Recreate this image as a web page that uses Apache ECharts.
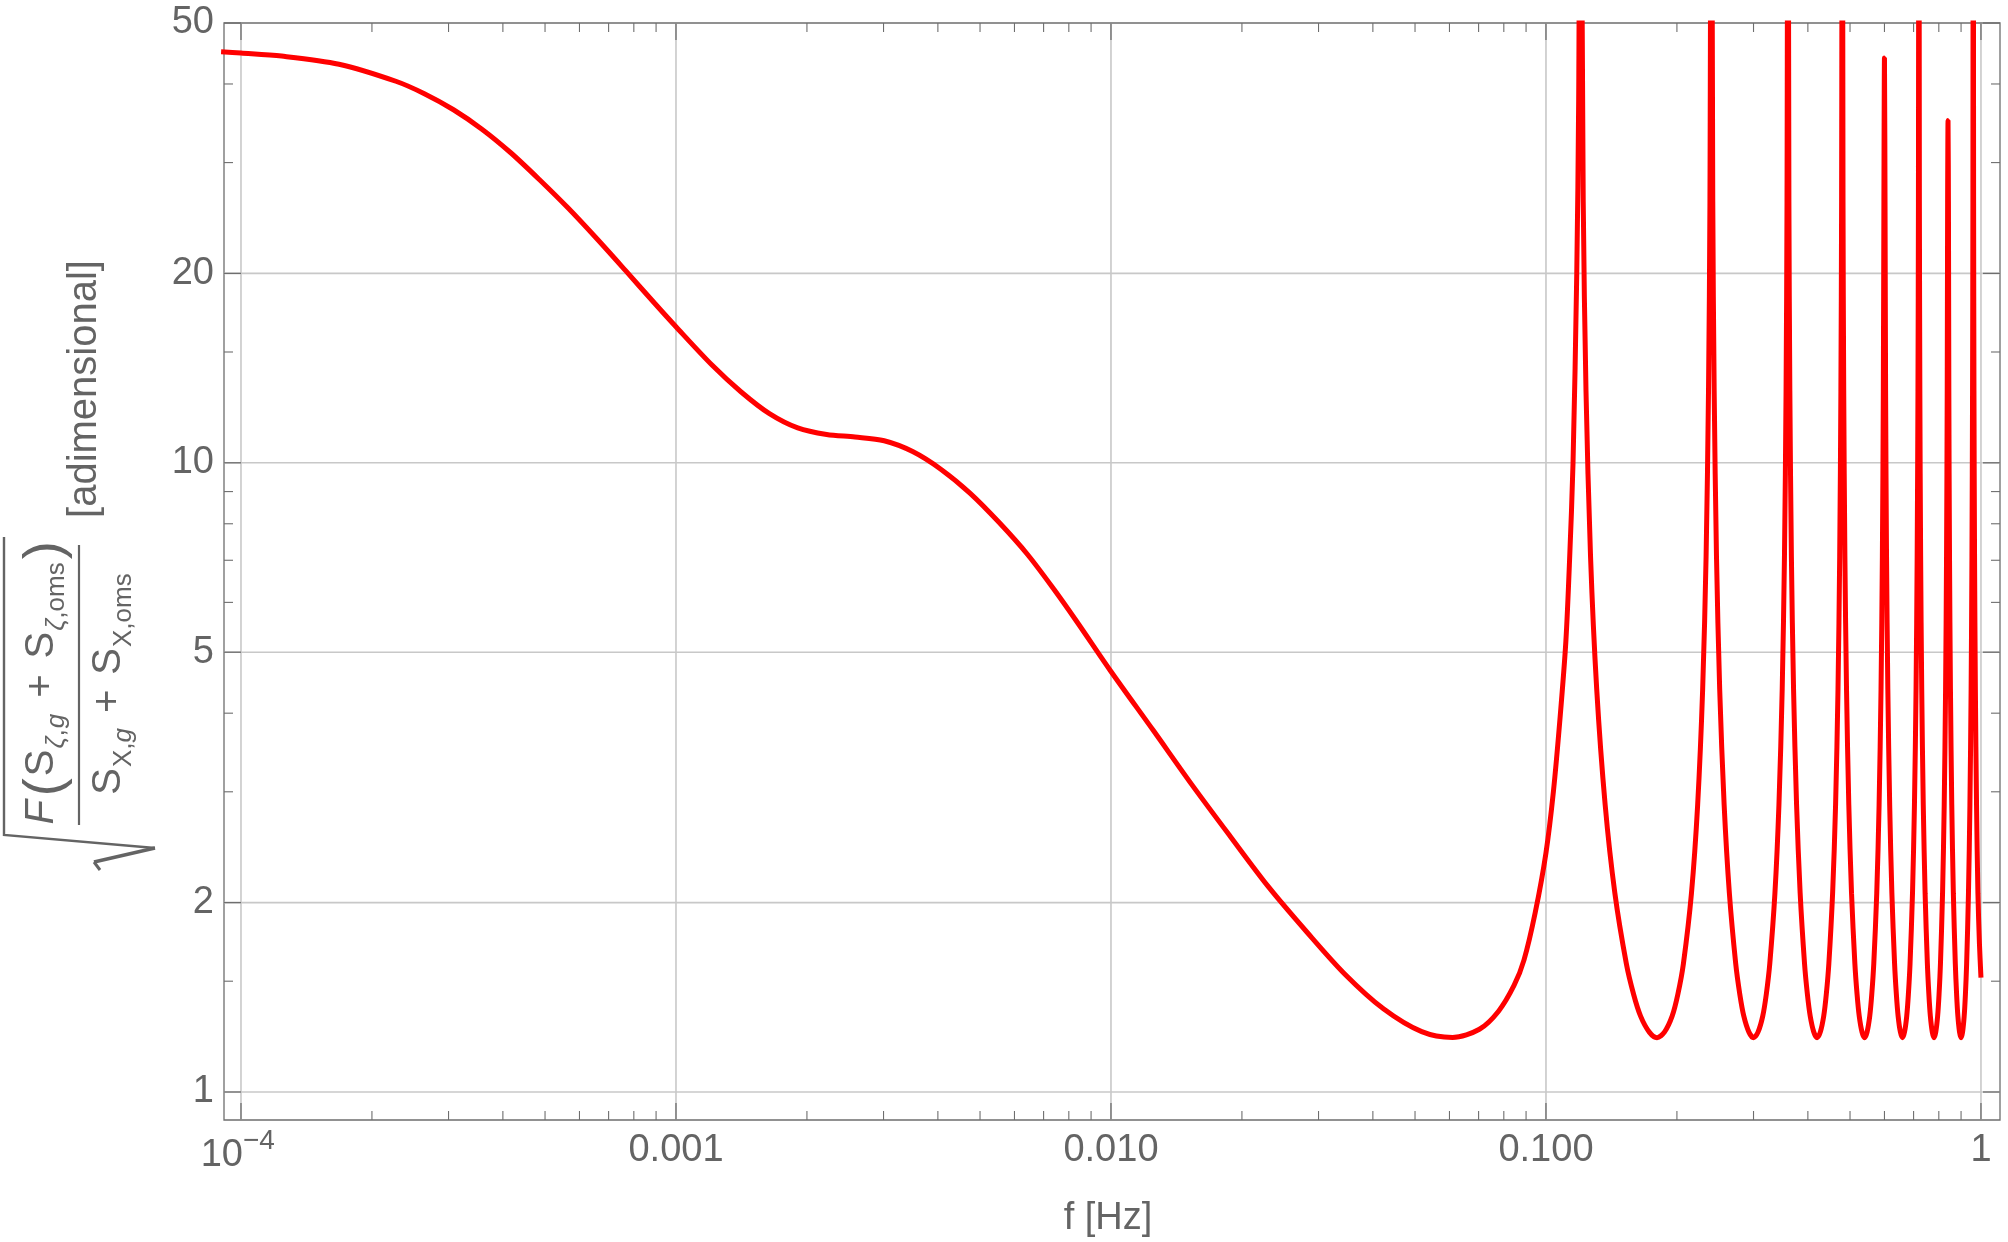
<!DOCTYPE html>
<html>
<head>
<meta charset="utf-8">
<script src="https://cdn.jsdelivr.net/npm/echarts@6/dist/echarts.min.js"></script>
<style>
html,body{margin:0;padding:0;background:#ffffff;}
#chart{width:2008px;height:1242px;}
</style>
</head>
<body>
<div id="chart"></div>
<script>
// ---------------- data ----------------
const freq = [
  9.0e-5, 1.0e-4, 1.24e-4, 1.68e-4, 2.27e-4, 2.64e-4, 3.08e-4, 3.58e-4, 4.17e-4, 4.85e-4, 5.65e-4,
  6.58e-4, 7.66e-4, 8.91e-4, 1.0e-3, 1.21e-3, 1.41e-3, 1.64e-3, 1.905e-3, 2.22e-3, 2.58e-3,
  3.01e-3, 3.5e-3, 4.07e-3, 4.74e-3, 5.52e-3, 6.43e-3, 7.4e-3, 8.35e-3, 0.01, 0.01253,
  0.01534, 0.01879, 0.023, 0.0282, 0.0345, 0.0423, 0.0518, 0.061, 0.0703, 0.0778,
  0.0845, 0.089, 0.0945, 0.1, 0.104, 0.1078, 0.1111, 0.1133, 0.1154, 0.1177, 0.1189, 0.12,
  0.1218, 0.1236, 0.1266, 0.1308, 0.1368, 0.144, 0.153, 0.159, 0.165, 0.1728, 0.18,
  0.1872, 0.195, 0.201, 0.207, 0.216, 0.2232, 0.2292, 0.2334, 0.2364, 0.2382, 0.24,
  0.2418, 0.2436, 0.2466, 0.2508, 0.2568, 0.264, 0.273, 0.279, 0.285, 0.2928, 0.30,
  0.3072, 0.315, 0.321, 0.327, 0.336, 0.3432, 0.3492, 0.3534, 0.3564, 0.3582, 0.36,
  0.3618, 0.3636, 0.3666, 0.3708, 0.3768, 0.384, 0.393, 0.399, 0.405, 0.4128, 0.42,
  0.4272, 0.435, 0.441, 0.447, 0.456, 0.4632, 0.4692, 0.4734, 0.4764, 0.4782, 0.48,
  0.4818, 0.4836, 0.4866, 0.4908, 0.4968, 0.504, 0.513, 0.519, 0.525, 0.5328, 0.54,
  0.5472, 0.555, 0.561, 0.567, 0.576, 0.5832, 0.5892, 0.5934, 0.5964, 0.5982, 0.60,
  0.6018, 0.6036, 0.6066, 0.6108, 0.6168, 0.624, 0.633, 0.639, 0.645, 0.6528, 0.66,
  0.6672, 0.675, 0.681, 0.687, 0.696, 0.7032, 0.7092, 0.7134, 0.7164, 0.7182, 0.72,
  0.7218, 0.7236, 0.7266, 0.7308, 0.7368, 0.744, 0.753, 0.759, 0.765, 0.7728, 0.78,
  0.7872, 0.795, 0.801, 0.807, 0.816, 0.8232, 0.8292, 0.8334, 0.8364, 0.8382, 0.84,
  0.8418, 0.8436, 0.8466, 0.8508, 0.8568, 0.864, 0.873, 0.879, 0.885, 0.8928, 0.90,
  0.9072, 0.915, 0.921, 0.927, 0.936, 0.9432, 0.9492, 0.9534, 0.9564, 0.9582, 0.96,
  0.9618, 0.9636, 0.9666, 0.9708, 0.9768, 0.984, 0.992, 1.0
];
const ratio = [
  45.0, 44.8, 44.3, 43.0, 40.4, 38.6, 36.4, 33.9, 31.1, 28.2, 25.4,
  22.7, 20.2, 17.96, 16.45, 14.3, 12.97, 11.97, 11.36, 11.09, 10.99,
  10.84, 10.42, 9.76, 8.95, 8.05, 7.15, 6.29, 5.59, 4.66, 3.75,
  3.08, 2.55, 2.12, 1.796, 1.539, 1.356, 1.247, 1.221, 1.258, 1.344,
  1.478, 1.62, 1.93, 2.40, 3.0, 3.95, 5.2, 7.0, 10, 20, 37.8, 150,
  26, 13, 7.1, 4.37, 2.86, 2.07, 1.60, 1.43, 1.32, 1.245, 1.22,
  1.245, 1.32, 1.43, 1.60, 2.07, 2.86, 4.37, 7.1, 13, 26, 150,
  26, 13, 7.1, 4.37, 2.86, 2.07, 1.60, 1.43, 1.32, 1.245, 1.22,
  1.245, 1.32, 1.43, 1.60, 2.07, 2.86, 4.37, 7.1, 13, 26, 150,
  26, 13, 7.1, 4.37, 2.86, 2.07, 1.60, 1.43, 1.32, 1.245, 1.22,
  1.245, 1.32, 1.43, 1.60, 2.07, 2.86, 4.37, 7.1, 13, 26, 150,
  26, 13, 7.1, 4.37, 2.86, 2.07, 1.60, 1.43, 1.32, 1.245, 1.22,
  1.245, 1.32, 1.43, 1.60, 2.07, 2.86, 4.37, 7.1, 13, 26, 44,
  26, 13, 7.1, 4.37, 2.86, 2.07, 1.60, 1.43, 1.32, 1.245, 1.22,
  1.245, 1.32, 1.43, 1.60, 2.07, 2.86, 4.37, 7.1, 13, 26, 150,
  26, 13, 7.1, 4.37, 2.86, 2.07, 1.60, 1.43, 1.32, 1.245, 1.22,
  1.245, 1.32, 1.43, 1.60, 2.07, 2.86, 4.37, 7.1, 13, 26, 35,
  26, 13, 7.1, 4.37, 2.86, 2.07, 1.60, 1.43, 1.32, 1.245, 1.22,
  1.245, 1.32, 1.43, 1.60, 2.07, 2.86, 4.37, 7.1, 13, 26, 150,
  26, 13, 7.1, 4.37, 2.86, 2.07, 1.72, 1.52
];
const xMajorTicks = [1e-4, 1e-3, 1e-2, 1e-1, 1];
const xTickLabels = ['10^−4', '0.001', '0.010', '0.100', '1'];
const xMinorTicks = [
  2e-4, 3e-4, 4e-4, 5e-4, 6e-4, 7e-4, 8e-4, 9e-4,
  2e-3, 3e-3, 4e-3, 5e-3, 6e-3, 7e-3, 8e-3, 9e-3,
  0.02, 0.03, 0.04, 0.05, 0.06, 0.07, 0.08, 0.09,
  0.2, 0.3, 0.4, 0.5, 0.6, 0.7, 0.8, 0.9
];
const yMajorTicks = [1, 2, 5, 10, 20, 50];
const yTickLabels = ['1', '2', '5', '10', '20', '50'];
const yMinorTicks = [1.5, 3, 4, 6, 7, 8, 9, 15, 30, 40];
const xAxisTitle = 'f [Hz]';
const yAxisUnit = '[adimensional]';

// ---------------- axis ranges & styles ----------------
const X_MIN = 9.14e-5, X_MAX = 1.106, Y_MIN = 0.9026, Y_MAX = 50;
const FAM = '"Liberation Sans", Arial, Helvetica, sans-serif';
const TXT = '#646464', AX = '#6e6e6e', GRID = '#c8c8c8', RED = '#ff0000';
const MAJ = 17, MINL = 9;
const LABEL_FONT = '38px ' + FAM;

const mctx = document.createElement('canvas').getContext('2d');
function tw(text, font) { mctx.font = font; return mctx.measureText(text).width; }

function txt(text, x, y, font, align, valign) {
  return {
    type: 'text', x: x, y: y,
    style: {
      text: text, font: font, fill: TXT,
      textAlign: align, textVerticalAlign: valign,
      align: align, verticalAlign: valign
    }
  };
}

function row(pieces, centerLx) {
  let total = 0;
  pieces.forEach(p => { p.w = tw(p.t, p.font); total += p.w + (p.gap || 0); });
  total -= (pieces[pieces.length - 1].gap || 0);
  let x = centerLx - total / 2;
  const out = [];
  pieces.forEach(p => { out.push(txt(p.t, x, p.ly, p.font, 'left', 'middle')); x += p.w + (p.gap || 0); });
  return out;
}

const R40 = '40px ' + FAM, I40 = 'italic 40px ' + FAM;
const R26 = '26px ' + FAM, I26 = 'italic 26px ' + FAM;
const R54 = '54px ' + FAM;

const numerator = row([
  { t: 'F', font: I40, ly: 42, gap: 4 },
  { t: '(', font: R54, ly: 46, gap: 2 },
  { t: 'S', font: R40, ly: 42, gap: 1 },
  { t: 'ζ', font: I26, ly: 57, gap: 0 },
  { t: ',', font: R26, ly: 57, gap: 1 },
  { t: 'g', font: I26, ly: 57, gap: 16 },
  { t: '+', font: R40, ly: 42, gap: 16 },
  { t: 'S', font: R40, ly: 42, gap: 1 },
  { t: 'ζ', font: I26, ly: 57, gap: 0 },
  { t: ',oms', font: R26, ly: 57, gap: 3 },
  { t: ')', font: R54, ly: 46 }
], 154);

const denominator = row([
  { t: 'S', font: R40, ly: 109, gap: 1 },
  { t: 'X,', font: R26, ly: 124, gap: 0 },
  { t: 'g', font: I26, ly: 124, gap: 15 },
  { t: '+', font: R40, ly: 109, gap: 15 },
  { t: 'S', font: R40, ly: 109, gap: 1 },
  { t: 'X,oms', font: R26, ly: 124 }
], 153);

const yLabelChildren = [
  { type: 'polyline', shape: { points: [[300, 4], [2, 4], [-11, 155]] },
    style: { stroke: TXT, lineWidth: 2.4, fill: null } },
  { type: 'line', shape: { x1: -11, y1: 155, x2: -25, y2: 94 },
    style: { stroke: TXT, lineWidth: 3.4 } },
  { type: 'line', shape: { x1: -25, y1: 94, x2: -33, y2: 100 },
    style: { stroke: TXT, lineWidth: 3 } },
  { type: 'line', shape: { x1: 12, y1: 79, x2: 292, y2: 79 },
    style: { stroke: TXT, lineWidth: 2.2 } },
  txt(yAxisUnit, 448, 85, '40px ' + FAM, 'center', 'middle')
].concat(numerator, denominator);

// ---------------- chart ----------------
const chart = echarts.init(document.getElementById('chart'), null, { renderer: 'canvas', width: 2008, height: 1242 });

const lineData = freq.map((f, i) => [f, ratio[i]]);

const option = {
  animation: false,
  backgroundColor: '#ffffff',
  grid: { left: 224, top: 23, width: 1776, height: 1097, show: true, borderColor: AX, borderWidth: 1.3, backgroundColor: 'transparent' },
  xAxis: {
    type: 'log', logBase: 10, min: X_MIN, max: X_MAX,
    axisLine: { show: false }, axisTick: { show: false }, axisLabel: { show: false },
    splitLine: { show: false }, minorTick: { show: false }, minorSplitLine: { show: false }
  },
  yAxis: {
    type: 'log', logBase: 10, min: Y_MIN, max: Y_MAX,
    axisLine: { show: false }, axisTick: { show: false }, axisLabel: { show: false },
    splitLine: { show: false }, minorTick: { show: false }, minorSplitLine: { show: false }
  },
  series: [
    { // vertical grid lines
      type: 'custom', silent: true, z: 1, clip: false,
      data: xMajorTicks.map(v => [v, 1]),
      renderItem(params, api) {
        const cs = params.coordSys;
        const px = api.coord([api.value(0), 1])[0];
        return { type: 'line', shape: { x1: px, y1: cs.y, x2: px, y2: cs.y + cs.height },
          style: { stroke: GRID, lineWidth: 1.6 } };
      }
    },
    { // horizontal grid lines
      type: 'custom', silent: true, z: 1, clip: false,
      data: yMajorTicks.filter(v => v < Y_MAX).map(v => [1e-2, v]),
      renderItem(params, api) {
        const cs = params.coordSys;
        const py = api.coord([1e-2, api.value(1)])[1];
        return { type: 'line', shape: { x1: cs.x, y1: py, x2: cs.x + cs.width, y2: py },
          style: { stroke: GRID, lineWidth: 1.6 } };
      }
    },
    { // the curve
      type: 'line', z: 3, data: lineData, showSymbol: false, symbol: 'none', clip: true,
      smooth: 0.3,
      lineStyle: { color: RED, width: 5, join: 'bevel' }, silent: true
    },
    { // x major ticks + labels
      type: 'custom', silent: true, z: 4, clip: false,
      data: xMajorTicks.map((v, i) => [v, 1, i]),
      renderItem(params, api) {
        const cs = params.coordSys;
        const px = api.coord([api.value(0), 1])[0];
        const top = cs.y, bot = cs.y + cs.height;
        const lab = xTickLabels[api.value(2)];
        const ch = [
          { type: 'line', shape: { x1: px, y1: bot, x2: px, y2: bot - MAJ }, style: { stroke: AX, lineWidth: 1.3 } },
          { type: 'line', shape: { x1: px, y1: top, x2: px, y2: top + MAJ }, style: { stroke: AX, lineWidth: 1.3 } }
        ];
        if (lab.indexOf('^') >= 0) {
          const parts = lab.split('^');
          ch.push(txt(parts[0], px + 2, bot + 36, LABEL_FONT, 'right', 'middle'));
          ch.push(txt(parts[1], px + 2, bot + 21, '28px ' + FAM, 'left', 'middle'));
        } else {
          ch.push(txt(lab, px, bot + 31, LABEL_FONT, 'center', 'middle'));
        }
        return { type: 'group', children: ch };
      }
    },
    { // x minor ticks
      type: 'custom', silent: true, z: 4, clip: false,
      data: xMinorTicks.map(v => [v, 1]),
      renderItem(params, api) {
        const cs = params.coordSys;
        const px = api.coord([api.value(0), 1])[0];
        const top = cs.y, bot = cs.y + cs.height;
        return { type: 'group', children: [
          { type: 'line', shape: { x1: px, y1: bot, x2: px, y2: bot - MINL }, style: { stroke: AX, lineWidth: 1.1 } },
          { type: 'line', shape: { x1: px, y1: top, x2: px, y2: top + MINL }, style: { stroke: AX, lineWidth: 1.1 } }
        ] };
      }
    },
    { // y major ticks + labels
      type: 'custom', silent: true, z: 4, clip: false,
      data: yMajorTicks.map((v, i) => [1e-2, v, i]),
      renderItem(params, api) {
        const cs = params.coordSys;
        const py = api.coord([1e-2, api.value(1)])[1];
        const l = cs.x, r = cs.x + cs.width;
        return { type: 'group', children: [
          { type: 'line', shape: { x1: l, y1: py, x2: l + MAJ, y2: py }, style: { stroke: AX, lineWidth: 1.3 } },
          { type: 'line', shape: { x1: r, y1: py, x2: r - MAJ, y2: py }, style: { stroke: AX, lineWidth: 1.3 } },
          txt(yTickLabels[api.value(2)], l - 10, py, LABEL_FONT, 'right', 'middle')
        ] };
      }
    },
    { // y minor ticks
      type: 'custom', silent: true, z: 4, clip: false,
      data: yMinorTicks.map(v => [1e-2, v]),
      renderItem(params, api) {
        const cs = params.coordSys;
        const py = api.coord([1e-2, api.value(1)])[1];
        const l = cs.x, r = cs.x + cs.width;
        return { type: 'group', children: [
          { type: 'line', shape: { x1: l, y1: py, x2: l + MINL, y2: py }, style: { stroke: AX, lineWidth: 1.1 } },
          { type: 'line', shape: { x1: r, y1: py, x2: r - MINL, y2: py }, style: { stroke: AX, lineWidth: 1.1 } }
        ] };
      }
    }
  ],
  graphic: [
    txt(xAxisTitle, 1108, 1219, LABEL_FONT, 'center', 'middle'),
    { type: 'group', x: 0, y: 837, rotation: Math.PI / 2, children: yLabelChildren }
  ]
};

chart.setOption(option);
</script>
</body>
</html>
